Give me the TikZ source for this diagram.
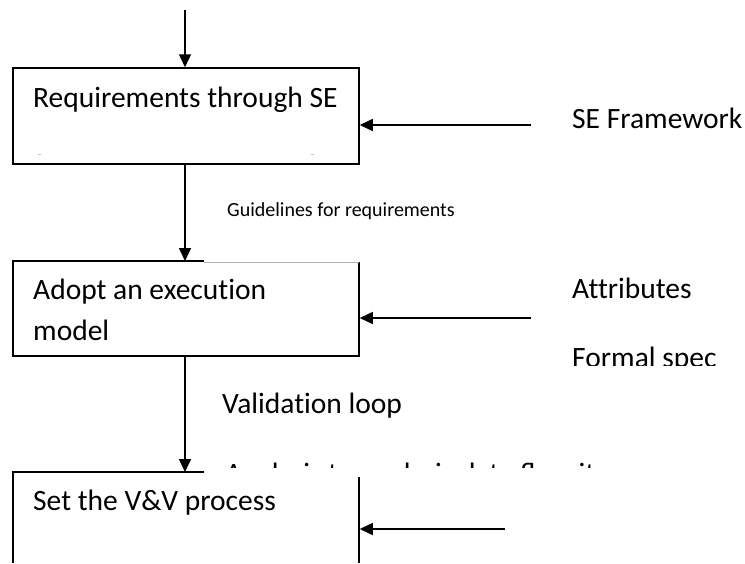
\documentclass[tikz,border=0pt]{standalone}
\usepackage{fontspec}
\setmainfont[Ligatures=NoCommon]{Carlito}
\newfontfamily\ligfont{Carlito}
\usetikzlibrary{arrows.meta}
\begin{document}
\begin{tikzpicture}[x=1pt,y=-1pt,
  edge/.style={line width=1.5pt},
  arr/.style={line width=1.5pt,-{Triangle[length=13pt,width=12pt]}},
  big/.style={font=\fontsize{29.5}{34}\selectfont, inner sep=0pt, anchor=base west},
  small/.style={font=\fontsize{20}{24}\selectfont, inner sep=0pt, anchor=base west},
  frame/.style={draw, line width=1.5pt, inner sep=0pt, minimum width=346pt, minimum height=96pt}]
\useasboundingbox (0,0) rectangle (745,563);

% first step: a complete box
\node[frame] (b1) at (186,116) {};
\node[big] (t1) at (33,107) {Requirements through SE};
\draw[gray!45, line width=0.6pt] (38,154) -- (41,154) (311,154) -- (314,154);

% second step: box with a faint right part of the top edge
\coordinate (b2nw) at (13,261);
\coordinate (b2cut) at (204,261);
\coordinate (b2ne) at (359,262);
\coordinate (b2sw) at (13,356);
\coordinate (b2se) at (359,356);
\draw[edge] (b2cut) -- (b2nw) -- (b2sw) -- (b2se) -- (b2ne);
\draw[gray!60, line width=0.8pt] (204,262) -- (b2ne);
\node[big] (t2a) at (33,299) {Adopt an execution};
\node[big] (t2b) at (33,340) {model};

% third step: box running off the page
\coordinate (b3nw) at (13,472);
\coordinate (b3cut) at (204,472);
\coordinate (b3ne) at (359,477);
\draw[edge] (b3cut) -- (b3nw) -- (13,563);
\draw[edge] (b3ne) -- (359,563);
\node[big] (t3) at (33,510) {Set the V\&V process};

% flow down the left column
\coordinate (start) at (185,10);
\draw[arr] (start) -- (start |- b1.north);
\coordinate (d1) at (185,164.75);
\coordinate (d1e) at (185,261);
\draw[arr] (d1) -- (d1e);
\coordinate (d2) at (185,356.75);
\coordinate (d2e) at (185,472);
\draw[arr] (d2) -- (d2e);

% inputs from the right
\coordinate (in1) at (531,125);
\draw[arr] (in1) -- (b1.east |- in1);
\coordinate (in2) at (531,318);
\coordinate (in2e) at (359.75,318);
\draw[arr] (in2) -- (in2e);
\coordinate (in3) at (505,529);
\coordinate (in3e) at (359.75,529);
\draw[arr] (in3) -- (in3e);

% labels
\node[big] (fw) at (572,128) {SE Framework};
\node[small] (gl) at (227,216) {Guidelines for requirements};
\node[big] (at) at (572,298) {Attributes};
\begin{scope}
  \clip (540,335) rectangle (720,365);
  \node[big] (fs) at (572,367) {Formal spec};
\end{scope}
\node[big] (vl) at (222,413) {Validation loop};
\begin{scope}
  \clip (215,455) rectangle (600,467.5);
  \node[big] (an) at (225,483.5) {\ligfont Analysis to analysis data flow it};
\end{scope}
\end{tikzpicture}
\end{document}
